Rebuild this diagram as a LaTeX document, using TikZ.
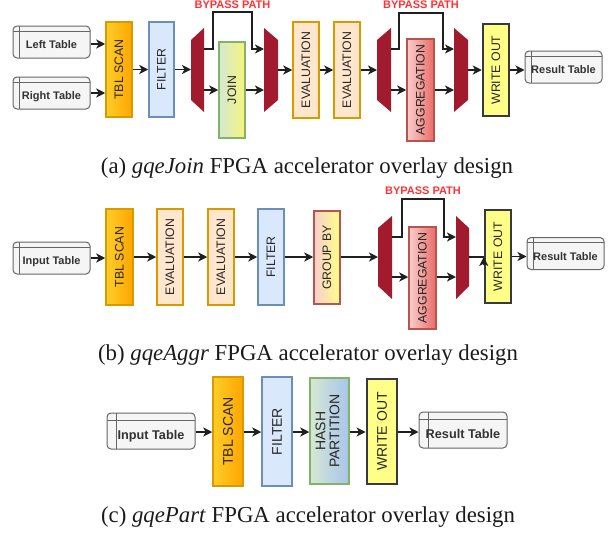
\documentclass[tikz,border=0pt]{standalone}
\usepackage{fontspec}
\setmainfont{Liberation Serif}
\setsansfont{Liberation Sans}
\usetikzlibrary{arrows.meta,calc}
\definecolor{scanL}{HTML}{FFCD28}
\definecolor{scanR}{HTML}{FFA500}
\definecolor{scanB}{HTML}{D79B00}
\definecolor{filtF}{HTML}{DAE8FC}
\definecolor{filtB}{HTML}{6C8EBF}
\definecolor{evalF}{HTML}{FFE6CC}
\definecolor{evalB}{HTML}{D79B00}
\definecolor{joinL}{HTML}{D5E8D4}
\definecolor{joinR}{HTML}{F5F57A}
\definecolor{joinB}{HTML}{82B366}
\definecolor{aggL}{HTML}{F8CECC}
\definecolor{aggR}{HTML}{EA6B66}
\definecolor{aggB}{HTML}{B85450}
\definecolor{grpR}{HTML}{FFFF88}
\definecolor{hashR}{HTML}{A9C4EB}
\definecolor{woF}{HTML}{FFFF88}
\definecolor{woB}{HTML}{36393D}
\definecolor{tblF}{HTML}{F5F5F5}
\definecolor{tblB}{HTML}{666666}
\definecolor{tblT}{HTML}{333333}
\definecolor{txt}{HTML}{262626}
\definecolor{arrC}{HTML}{1F1F1F}
\definecolor{muxC}{HTML}{A11A2E}
\definecolor{bpC}{HTML}{FF3333}
\definecolor{capC}{HTML}{1A1A1A}
\tikzset{
  box/.style={line width=1.5pt, inner sep=0pt, text=txt,
    font=\sffamily\fontsize{12.3}{14}\selectfont},
  bigbox/.style={box, font=\sffamily\fontsize{14}{13.5}\selectfont},
  scan/.style={draw=scanB, left color=scanL, right color=scanR},
  filt/.style={draw=filtB, fill=filtF},
  evalb/.style={draw=evalB, fill=evalF},
  joinb/.style={draw=joinB, left color=joinL, right color=joinR},
  aggb/.style={draw=aggB, left color=aggL, right color=aggR},
  grpb/.style={draw=aggB, left color=aggL, right color=grpR},
  hashb/.style={draw=joinB, left color=joinL, right color=hashR},
  wob/.style={draw=woB, fill=woF, line width=2.5pt},
  tbl/.style={draw=tblB, fill=tblF, rounded corners=4pt, line width=1pt,
    inner sep=0pt, text=tblT, minimum width=77pt, minimum height=32pt,
    font=\sffamily\bfseries\fontsize{11}{13}\selectfont,
    text height=13pt, text depth=0pt,
    path picture={
      \draw[tblB, line width=0.8pt]
        ([xshift=6pt]path picture bounding box.north west) --
        ([xshift=6pt]path picture bounding box.south west);
      \draw[tblB, line width=0.8pt]
        ([yshift=-5pt]path picture bounding box.north west) --
        ([yshift=-5pt]path picture bounding box.north east);}},
  tblbig/.style={tbl, minimum width=88pt, minimum height=36pt,
    font=\sffamily\bfseries\fontsize{12.7}{14}\selectfont,
    text height=17pt,
    path picture={
      \draw[tblB, line width=0.9pt]
        ([xshift=9pt]path picture bounding box.north west) --
        ([xshift=9pt]path picture bounding box.south west);
      \draw[tblB, line width=0.9pt]
        ([yshift=-7pt]path picture bounding box.north west) --
        ([yshift=-7pt]path picture bounding box.north east);}},
  arr/.style={draw=arrC, line width=1.9pt,
    -{Stealth[length=9pt,width=9pt,inset=2.5pt]}},
  plain/.style={draw=arrC, line width=1.9pt},
  bypass/.style={text=bpC, inner sep=0pt,
    font=\sffamily\bfseries\fontsize{11}{13}\selectfont},
  captext/.style={text=capC, inner sep=0pt,
    font=\rmfamily\fontsize{22.8}{26}\selectfont},
}
\begin{document}
\begin{tikzpicture}[x=1pt, y=-1pt]
\useasboundingbox (0,0) rectangle (613,533);

% ================= (a) =================
\node[tbl] (lt) at (51.5,42) {Left Table};
\node[tbl] (rt) at (51.5,93) {Right Table};
\node[box, scan, minimum width=26pt, minimum height=95pt] (ts1) at (119,69.5) {\rotatebox{90}{TBL SCAN}};
\node[box, filt, minimum width=25pt, minimum height=95pt] (f1) at (161.5,69.5) {\rotatebox{90}{FILTER}};
\fill[muxC] (191,40) -- (204,28) -- (204,112) -- (191,100) -- cycle;
\coordinate (m1i) at (191,69.5);
\coordinate (m1a) at (204,49);
\coordinate (m1b) at (204,90);
\node[box, joinb, minimum width=26pt, minimum height=96pt] (j1) at (232,90) {\rotatebox{90}{JOIN}};
\fill[muxC] (264,28) -- (278,40) -- (278,100) -- (264,112) -- cycle;
\coordinate (m2a) at (264,49);
\coordinate (m2b) at (264,90);
\coordinate (m2o) at (278,70);
\coordinate (b1l) at (213,12);
\coordinate (b1r) at (252,12);
\node[box, evalb, minimum width=26pt, minimum height=96pt] (e1) at (306,70) {\rotatebox{90}{EVALUATION}};
\node[box, evalb, minimum width=26pt, minimum height=96pt] (e2) at (347,70) {\rotatebox{90}{EVALUATION}};
\fill[muxC] (377,40) -- (391,28) -- (391,112) -- (377,100) -- cycle;
\coordinate (m3i) at (377,70);
\coordinate (m3a) at (391,49);
\coordinate (m3b) at (391,90);
\node[box, aggb, minimum width=27pt, minimum height=102pt] (ag1) at (420.5,90) {\rotatebox{90}{AGGREGATION}};
\fill[muxC] (454,28) -- (468,40) -- (468,100) -- (454,112) -- cycle;
\coordinate (m4a) at (454,49);
\coordinate (m4b) at (454,90);
\coordinate (m4o) at (468,70);
\coordinate (b2l) at (399,13);
\coordinate (b2r) at (443,13);
\node[box, wob, minimum width=26pt, minimum height=92pt] (wo1) at (496,70) {\rotatebox{90}{WRITE OUT}};
\node[tbl] (res1) at (563.5,67) {Result Table};
\node[bypass] (bpa1) at (232.5,4.4) {BYPASS PATH};
\node[bypass] (bpa2) at (421,4.4) {BYPASS PATH};

\draw[arr] ([yshift=-2pt]lt.east) -- ([yshift=-2pt]lt.east -| ts1.west);
\draw[arr] (rt.east) -- (rt.east -| ts1.west);
\draw[arr] (ts1.east) -- (f1.west);
\draw[arr] (f1.east) -- (m1i);
\draw[arr] (m1a) -- (b1l |- m1a) -- (b1l) -- (b1r) -- (b1r |- m2a) -- (m2a);
\draw[arr] (m1b) -- (m1b -| j1.west);
\draw[arr] (j1.east) -- (m2b);
\draw[arr] (m2o) -- (m2o -| e1.west);
\draw[arr] (e1.east) -- (e2.west);
\draw[arr] (e2.east) -- (m3i);
\draw[arr] (m3a) -- (b2l |- m3a) -- (b2l) -- (b2r) -- (b2r |- m4a) -- (m4a);
\draw[arr] (m3b) -- (m3b -| ag1.west);
\draw[arr] (ag1.east) -- (m4b);
\draw[arr] (m4o) -- (m4o -| wo1.west);
\draw[arr] (wo1.east) -- (wo1.east -| res1.west);

\node[captext] (capa) at (307,168) {(a) \textit{gqeJoin} FPGA accelerator overlay design};

% ================= (b) =================
\node[tbl] (it) at (51.5,258) {Input Table};
\node[box, scan, minimum width=27pt, minimum height=96pt] (ts2) at (119.5,257) {\rotatebox{90}{TBL SCAN}};
\node[box, evalb, minimum width=26pt, minimum height=96pt] (e3) at (170,257) {\rotatebox{90}{EVALUATION}};
\node[box, evalb, minimum width=26pt, minimum height=96pt] (e4) at (221,257) {\rotatebox{90}{EVALUATION}};
\node[box, filt, minimum width=26pt, minimum height=96pt] (f2) at (271,257) {\rotatebox{90}{FILTER}};
\node[box, grpb, minimum width=26pt, minimum height=93pt] (gb) at (327,257.5) {\rotatebox{90}{GROUP BY}};
\fill[muxC] (378,228) -- (392,216) -- (392,299) -- (378,286) -- cycle;
\coordinate (m5i) at (378,257);
\coordinate (m5a) at (392,237);
\coordinate (m5b) at (392,277);
\coordinate (b3l) at (402,199);
\coordinate (b3r) at (444,199);
\node[box, aggb, minimum width=27pt, minimum height=102pt] (ag2) at (422.5,278) {\rotatebox{90}{AGGREGATION}};
\fill[muxC] (456,216) -- (469,228) -- (469,286) -- (456,299) -- cycle;
\coordinate (m6a) at (456,237);
\coordinate (m6b) at (456,277);
\coordinate (m6o) at (469,257);
\node[box, wob, minimum width=26pt, minimum height=93pt] (wo2) at (498,256.5) {\rotatebox{90}{WRITE OUT}};
\node[tbl] (res2) at (565.5,253.5) {Result Table};
\node[bypass] (bpb) at (423,191) {BYPASS PATH};

\draw[arr] (it.east) -- (it.east -| ts2.west);
\draw[arr] (ts2.east) -- (e3.west);
\draw[arr] (e3.east) -- (e4.west);
\draw[arr] (e4.east) -- (f2.west);
\draw[arr] (f2.east) -- (gb.west |- f2.east);
\draw[arr] (gb.east |- m5i) -- (m5i);
\draw[arr] (m5a) -- (b3l |- m5a) -- (b3l) -- (b3r) -- (b3r |- m6a) -- (m6a);
\draw[arr] (m5b) -- (m5b -| ag2.west);
\draw[arr] (ag2.east |- m6b) -- (m6b);
\draw[plain] (m6o) -- (m6o -| wo2.west);
\draw[arr] ([yshift=-8pt]m6o -| wo2.west) -- (m6o -| wo2.west);
\draw[arr] (wo2.east) -- (wo2.east -| res2.west);

\node[captext] (capb) at (308,355) {(b) \textit{gqeAggr} FPGA accelerator overlay design};

% ================= (c) =================
\node[tblbig] (it3) at (151,431) {Input Table};
\node[bigbox, scan, minimum width=30pt, minimum height=109pt] (ts3) at (228,431.5) {\rotatebox{90}{TBL SCAN}};
\node[bigbox, filt, minimum width=30pt, minimum height=109pt] (f3) at (277,431.5) {\rotatebox{90}{FILTER}};
\node[bigbox, hashb, minimum width=39pt, minimum height=106pt] (hp) at (329.5,431) {\rotatebox{90}{\begin{tabular}{@{}c@{}}HASH\\PARTITION\end{tabular}}};
\node[bigbox, wob, line width=2.8pt, minimum width=30pt, minimum height=105pt] (wo3) at (382,431.5) {\rotatebox{90}{WRITE OUT}};
\node[tblbig] (res3) at (463,430) {Result Table};

\coordinate (yc) at (0,432);
\draw[arr] (it3.east |- yc) -- (ts3.west |- yc);
\draw[arr] (ts3.east |- yc) -- (f3.west |- yc);
\draw[arr] (f3.east |- yc) -- (hp.west |- yc);
\draw[arr] (hp.east |- yc) -- (wo3.west |- yc);
\draw[arr] (wo3.east |- yc) -- (res3.west |- yc);

\node[captext] (capc) at (308,517) {(c) \textit{gqePart} FPGA accelerator overlay design};
\end{tikzpicture}
\end{document}
